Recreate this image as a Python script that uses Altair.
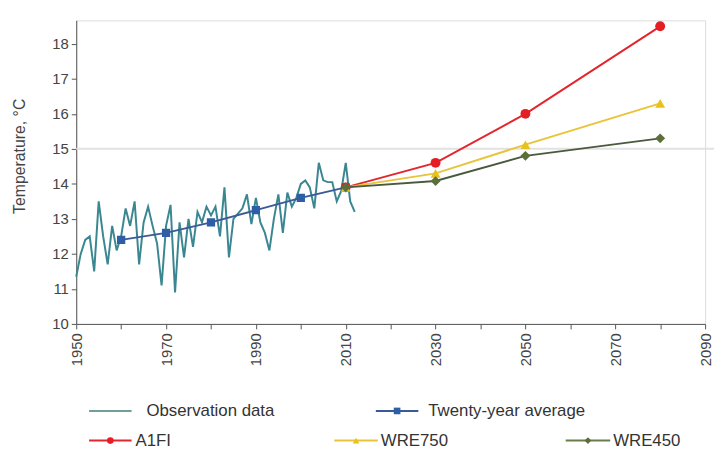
import altair as alt
import pandas as pd

# ---- data ----
obs_years = list(range(1950, 2013))
obs_temp = [11.35, 12.0, 12.4, 12.5, 11.5, 13.5, 12.5, 11.7, 12.8, 12.1,
            12.5, 13.3, 12.8, 13.5, 11.7, 12.9, 13.35, 12.8, 12.3, 11.1,
            12.8, 13.4, 10.9, 12.9, 11.9, 13.0, 12.2, 13.2, 12.9, 13.35,
            13.1, 13.35, 12.5, 13.9, 11.9, 13.0, 13.15, 13.3, 13.7, 12.85,
            13.6, 12.9, 12.6, 12.1, 13.0, 13.7, 12.6, 13.75, 13.35, 13.6,
            14.0, 14.1, 13.9, 13.3, 14.6, 14.1, 14.05, 14.05, 13.5, 13.8,
            14.6, 13.5, 13.2]

avg_years = [1960, 1970, 1980, 1990, 2000, 2010]
avg_temp = [12.4, 12.6, 12.9, 13.25, 13.6, 13.9]

scen_years = [2010, 2030, 2050, 2080]
a1fi = [13.9, 14.6, 16.0, 18.5]
wre750 = [13.9, 14.3, 15.12, 16.3]
wre450 = [13.9, 14.08, 14.8, 15.3]

ref_temp = [15]
x_ticks = list(range(1950, 2091, 10))
y_ticks = list(range(10, 19))

W, H = 636, 307
FONT = "Liberation Sans"

obs_df = pd.DataFrame({"year": obs_years, "temp": obs_temp})
avg_df = pd.DataFrame({"year": avg_years, "temp": avg_temp})
a1_df = pd.DataFrame({"year": scen_years, "temp": a1fi})
w750_df = pd.DataFrame({"year": scen_years, "temp": wre750})
w450_df = pd.DataFrame({"year": scen_years, "temp": wre450})
ref_df = pd.DataFrame({"temp": ref_temp})

xscale = alt.Scale(domain=[1950, 2090], nice=False, zero=False)
yscale = alt.Scale(domain=[10, 18.67], nice=False, zero=False)

xax = alt.Axis(values=x_ticks, format="d", labelAngle=270,
               labelExpr="datum.value % 20 == 10 ? datum.label : ''",
               title=None, grid=False, labelFontSize=15, labelColor="#444",
               domainColor="#555", tickColor="#555", tickSize=5,
               labelFont=FONT, labelPadding=4)
yax = alt.Axis(values=y_ticks, title="Temperature, °C", grid=False,
               labelFontSize=15, labelColor="#444", domainColor="#555",
               tickColor="#555", tickSize=5, labelFont=FONT,
               titleFont=FONT, titleFontSize=16, titleFontWeight="normal",
               titleColor="#444", titleX=-49, titleY=137, labelPadding=3)

X = alt.X("year:Q", scale=xscale, axis=xax)
Y = alt.Y("temp:Q", scale=yscale, axis=yax)

ref = alt.Chart(ref_df).mark_rule(color="#e2e2e2", strokeWidth=2).encode(
    y=Y, x=alt.value(0), x2=alt.value(W + 9))

obs = alt.Chart(obs_df).mark_line(color="#3a8792", strokeWidth=2).encode(x=X, y=Y)

avg_line = alt.Chart(avg_df).mark_line(color="#3b5a96", strokeWidth=2).encode(x=X, y=Y)
avg_pts = alt.Chart(avg_df).mark_point(shape="square", filled=True, size=70,
                                       color="#2d5ea6", opacity=1).encode(x=X, y=Y)

def scen(df, color, mcolor, shape, size):
    ln = alt.Chart(df).mark_line(color=color, strokeWidth=2).encode(x=X, y=Y)
    pt = alt.Chart(df).mark_point(shape=shape, filled=True, size=size,
                                  color=mcolor, opacity=1).encode(x=X, y=Y)
    return ln + pt

a1 = scen(a1_df, "#e3262d", "#e51e26", "circle", 100)
w7 = scen(w750_df, "#e9c43a", "#e8c21c", "triangle-up", 100)
w4 = scen(w450_df, "#4a5a3e", "#5b6e3c", "diamond", 100)

# ---- custom legend (two rows, as in the reference) ----
leg_data = pd.DataFrame({"k": [0]})
def leg_item(x0, x1, y, label, line_color, marker=None, mcolor=None, tx=None):
    base = alt.Chart(leg_data)
    parts = [base.mark_rule(color=line_color, strokeWidth=2).encode(
        x=alt.value(x0), x2=alt.value(x1), y=alt.value(y))]
    if marker:
        parts.append(base.mark_point(shape=marker, filled=True, size=45,
                                     color=mcolor, opacity=1).encode(
            x=alt.value((x0 + x1) / 2), y=alt.value(y)))
    parts.append(base.mark_text(align="left", baseline="middle", font=FONT,
                                fontSize=17, color="#333").encode(
        x=alt.value(tx if tx is not None else x1 + 4), y=alt.value(y),
        text=alt.value(label)))
    return alt.layer(*parts)

legend = alt.layer(
    leg_item(13, 56, 395, "Observation data", "#6f9e9c", tx=71),
    leg_item(303, 346, 395, "Twenty-year average", "#3b5a96", "square", "#2d5ea6", tx=356),
    leg_item(13, 56, 425, "A1FI", "#e3262d", "circle", "#e51e26", tx=60),
    leg_item(261, 305, 425, "WRE750", "#e9c43a", "triangle-up", "#e8c21c", tx=308),
    leg_item(495, 540, 425, "WRE450", "#6b7d4a", "diamond", "#5b6e3c", tx=543),
)

chart = alt.layer(ref, obs, avg_line, avg_pts, a1, w7, w4, legend).properties(
    width=W, height=H,
    autosize=alt.AutoSizeParams(type="none"),
    padding={"left": 69, "top": 10, "right": 9, "bottom": 125},
).configure_view(stroke=None).configure(background="white", font=FONT)

chart.save("out.html", embed_options={"renderer": "svg", "actions": False})
